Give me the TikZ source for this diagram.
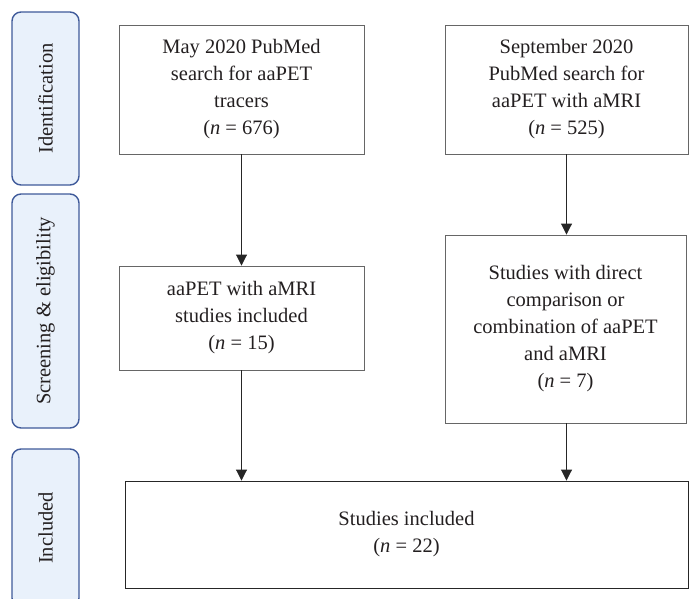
\documentclass[tikz,border=0pt]{standalone}
\usepackage{fontspec}
\setmainfont{Liberation Serif}
\usepackage{xcolor}
\usepackage{tikz}
\usetikzlibrary{positioning,arrows.meta}

\definecolor{stageblue}{HTML}{3F5A9A}
\definecolor{stagefill}{HTML}{E9F1FB}
\definecolor{inkgray}{HTML}{231F20}

\tikzset{
  stage/.style={draw=stageblue, line width=1.4pt, fill=stagefill,
    rounded corners=9pt, rotate=90, minimum height=67pt,
    text=inkgray, font=\fontsize{20.5}{27}\selectfont, inner sep=0pt},
  entry/.style={draw=black!60, line width=0.9pt, align=center,
    text=inkgray, font=\fontsize{20.5}{27}\selectfont, inner sep=0pt},
  arr/.style={-{Triangle[length=11pt,width=11pt]}, line width=0.9pt, black!85}
}

\begin{document}
\begin{tikzpicture}[x=1pt,y=1pt]
  \clip (0,0) rectangle (690,-599);
  \useasboundingbox (0,0) rectangle (690,-599);

  % Stage labels on the left
  \node[stage, minimum width=173pt] (ident)  at (45.5,-98.5) {Identification};
  \node[stage, minimum width=234pt] (screen) at (45.5,-311)  {Screening \& eligibility};
  \node[stage, minimum width=158pt] (incl)   at (45.5,-528)  {Included};

  % Searches
  \node[entry, minimum width=245pt, minimum height=129pt] (search1) at (241.5,-89.5)
    {May 2020 PubMed\\search for aaPET\\tracers\\(\textit{n} = 676)};
  \node[entry, minimum width=243pt, minimum height=129pt] (search2) at (566.5,-89.5)
    {September 2020\\PubMed search for\\aaPET with aMRI\\(\textit{n} = 525)};

  % Screening
  \node[entry, minimum width=245pt, minimum height=104pt] (studies1) at (241.5,-318)
    {aaPET with aMRI\\studies included\\(\textit{n} = 15)};
  \node[entry, minimum width=241pt, minimum height=188pt] (studies2) at (565.5,-329)
    {Studies with direct\\comparison or\\combination of aaPET\\and aMRI\\(\textit{n} = 7)};

  % Result
  \node[entry, draw=black!85, minimum width=563pt, minimum height=107pt] (total) at (406.5,-534.5)
    {Studies included\\(\textit{n} = 22)};

  % Arrows
  \draw[arr] (search1) -- (studies1);
  \draw[arr] (search2.south) -- (search2.south |- studies2.north);
  \draw[arr] (studies1.south) -- (studies1.south |- total.north);
  \draw[arr] (search2.south |- studies2.south) -- (search2.south |- total.north);
\end{tikzpicture}
\end{document}
